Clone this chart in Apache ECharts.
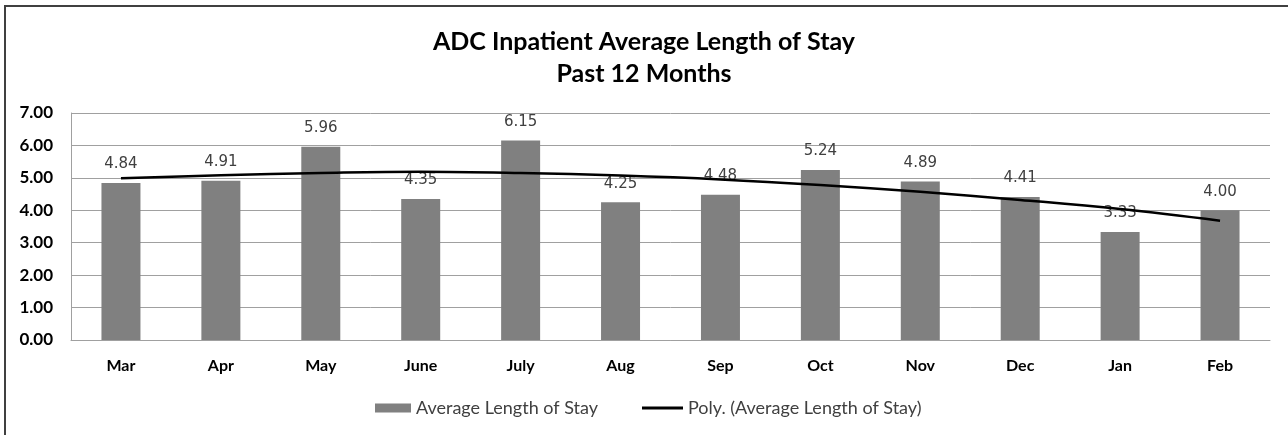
<!DOCTYPE html>
<html>
<head>
<meta charset="utf-8">
<script src="https://cdn.jsdelivr.net/npm/echarts@6/dist/echarts.min.js"></script>
<style>
  html, body { margin: 0; padding: 0; background: #ffffff; }
  #chart { width: 1288px; height: 435px; }
</style>
</head>
<body>
<div id="chart"></div>
<script>
const titleLines = ['ADC Inpatient Average Length of Stay', 'Past 12 Months'];
const categories = ['Mar', 'Apr', 'May', 'June', 'July', 'Aug', 'Sep', 'Oct', 'Nov', 'Dec', 'Jan', 'Feb'];
const losValues = [4.84, 4.91, 5.96, 4.35, 6.15, 4.25, 4.48, 5.24, 4.89, 4.41, 3.33, 4.00];
const trendValues = [4.99, 5.08, 5.15, 5.19, 5.15, 5.07, 4.95, 4.78, 4.57, 4.32, 4.04, 3.68];
const yTicks = { min: 0, max: 7, interval: 1 };
const seriesNames = ['Average Length of Stay', 'Poly. (Average Length of Stay)'];

const chart = echarts.init(document.getElementById('chart'), null, { renderer: 'canvas' });
const legendText = { fontFamily: 'Lato', fontSize: 18, color: '#404040' };
chart.setOption({
  animation: false,
  backgroundColor: '#ffffff',
  graphic: [{
    type: 'rect',
    silent: true,
    z: 100,
    shape: { x: 5, y: 6, width: 1400, height: 600 },
    style: { fill: 'none', stroke: '#404040', lineWidth: 2 }
  }],
  title: {
    text: titleLines.join('\n'),
    left: 'center',
    top: 26,
    padding: 0,
    textStyle: {
      fontFamily: 'Lato',
      fontWeight: 'bold',
      fontSize: 25,
      lineHeight: 32,
      color: '#000000'
    }
  },
  legend: [
    {
      left: 375,
      top: 399,
      padding: 0,
      itemWidth: 36,
      itemHeight: 9,
      textStyle: legendText,
      data: [{ name: seriesNames[0], icon: 'rect' }]
    },
    {
      left: 642,
      top: 399,
      padding: 0,
      itemWidth: 41,
      itemHeight: 3,
      textStyle: legendText,
      data: [{ name: seriesNames[1], icon: 'rect', itemStyle: { color: '#000000' } }]
    }
  ],
  grid: { left: 71, right: 18, top: 113, bottom: 95 },
  xAxis: {
    type: 'category',
    data: categories,
    axisLine: { show: true, lineStyle: { color: '#a0a0a0', width: 1 } },
    axisTick: { show: false },
    axisLabel: {
      margin: 18,
      fontFamily: 'Lato',
      fontWeight: 'bold',
      fontSize: 16,
      color: '#000000'
    }
  },
  yAxis: {
    type: 'value',
    min: yTicks.min,
    max: yTicks.max,
    interval: yTicks.interval,
    axisLine: { show: true, lineStyle: { color: '#a0a0a0', width: 1 } },
    axisTick: { show: false },
    splitLine: { show: true, lineStyle: { color: '#a0a0a0', width: 1 } },
    axisLabel: {
      margin: 18,
      fontFamily: 'Lato',
      fontWeight: 'bold',
      fontSize: 17,
      color: '#000000',
      formatter: v => v.toFixed(2)
    }
  },
  series: [
    {
      name: seriesNames[0],
      type: 'bar',
      data: losValues,
      barWidth: 39,
      itemStyle: { color: '#808080' },
      label: {
        show: true,
        position: 'top',
        distance: 11,
        fontFamily: 'DejaVu Sans',
        fontSize: 15,
        color: '#404040',
        formatter: p => p.value.toFixed(2)
      }
    },
    {
      name: seriesNames[1],
      type: 'line',
      data: trendValues,
      symbol: 'none',
      showSymbol: false,
      smooth: 0.4,
      z: 5,
      lineStyle: { color: '#000000', width: 2.5 },
      itemStyle: { color: '#000000' }
    }
  ]
});
</script>
</body>
</html>
